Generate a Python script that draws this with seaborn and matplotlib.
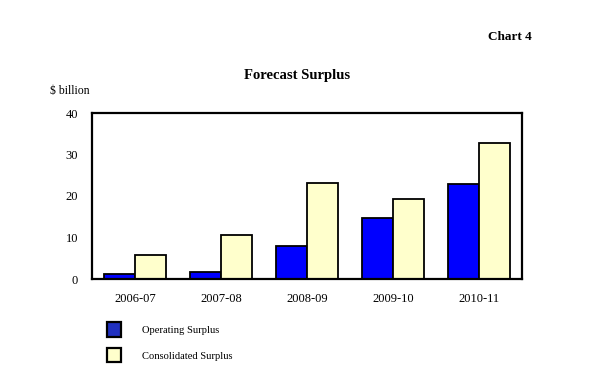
import matplotlib
matplotlib.use("Agg")
import matplotlib.pyplot as plt
import seaborn as sns
import pandas as pd

years = ["2006-07", "2007-08", "2008-09", "2009-10", "2010-11"]
operating = [1.1, 1.8, 8.0, 14.8, 22.9]
consolidated = [5.7, 10.7, 23.2, 19.3, 32.8]
series_names = ["Operating Surplus", "Consolidated Surplus"]
yticks = [0, 10, 20, 30, 40]

df = pd.DataFrame({
    "year": years * 2,
    "value": operating + consolidated,
    "series": [series_names[0]] * len(years) + [series_names[1]] * len(years),
})

sns.set_theme(style="white")
plt.rcParams["font.family"] = ["Liberation Serif", "DejaVu Serif"]
plt.rcParams["text.color"] = "black"

fig = plt.figure(figsize=(5.93, 3.83), dpi=100)
ax = fig.add_axes([92 / 593, 1 - 279 / 383, 430 / 593, 166 / 383])

sns.barplot(data=df, x="year", y="value", hue="series", order=years,
            hue_order=series_names, palette=["#0000FF", "#FFFFCC"],
            width=0.71, edgecolor="black", linewidth=1.3, saturation=1,
            ax=ax, legend=True)

ax.set_ylim(0, 40)
ax.set_yticks(yticks)
ax.set_xlabel("")
ax.set_ylabel("")
for s in ax.spines.values():
    s.set_visible(True)
    s.set_color("black")
    s.set_linewidth(1.6)
ax.tick_params(axis="y", direction="inout", length=6, width=1.5, labelsize=9,
               colors="black", pad=7)
ax.tick_params(axis="x", length=0, labelsize=9, colors="black", pad=10)

handles, labels = ax.get_legend_handles_labels()
ax.get_legend().remove()
leg = fig.legend(handles, labels, loc="upper left",
                 bbox_to_anchor=(98 / 593, 1 - 313 / 383), frameon=False,
                 fontsize=7.6, handlelength=1.3, handleheight=1.67,
                 handletextpad=2.0, labelspacing=1.1)
for h in leg.legend_handles:
    h.set_edgecolor("black")
    h.set_linewidth(1.6)
leg.legend_handles[0].set_facecolor("#2030C0")

fig.text(532 / 593, 1 - 37 / 383, "Chart 4", ha="right", va="center",
         fontsize=9.5, fontweight="bold")
fig.text(297 / 593, 1 - 76 / 383, "Forecast Surplus", ha="center", va="center",
         fontsize=10.5, fontweight="bold")
fig.text(50 / 593, 1 - 91 / 383, "$ billion", ha="left", va="center",
         fontsize=8.5)

fig.savefig("out.png", dpi=100)
